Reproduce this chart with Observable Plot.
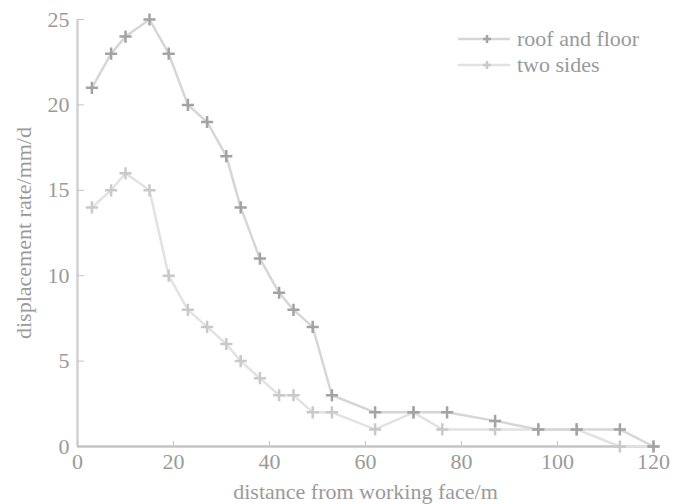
<!DOCTYPE html>
<html>
<head>
<meta charset="utf-8">
<script src="https://cdn.jsdelivr.net/npm/d3@7"></script>
<script src="https://cdn.jsdelivr.net/npm/@observablehq/plot@0.6"></script>
<style>
  html, body { margin: 0; padding: 0; background: #fff; }
  #wrap { position: relative; width: 675px; height: 504px; font-family: "Liberation Serif", "DejaVu Serif", serif; }
  #legend { position: absolute; left: 458px; top: 26px; font-size: 22px; color: #999; }
  #legend div { display: flex; align-items: center; height: 26px; }
  #legend svg { margin-right: 7px; }
</style>
</head>
<body>
<div id="wrap"></div>
<script>
// ---- data ----
const seriesNames = ["roof and floor", "two sides"];
const roofX = [3, 7, 10, 15, 19, 23, 27, 31, 34, 38, 42, 45, 49, 53, 62, 70, 77, 87, 96, 104, 113, 120];
const roofY = [21, 23, 24, 25, 23, 20, 19, 17, 14, 11, 9, 8, 7, 3, 2, 2, 2, 1.5, 1, 1, 1, 0];
const sidesX = [3, 7, 10, 15, 19, 23, 27, 31, 34, 38, 42, 45, 49, 53, 62, 70, 76, 87, 96, 104, 113, 120];
const sidesY = [14, 15, 16, 15, 10, 8, 7, 6, 5, 4, 3, 3, 2, 2, 1, 2, 1, 1, 1, 1, 0, 0];
const xTicks = [0, 20, 40, 60, 80, 100, 120];
const yTicks = [0, 5, 10, 15, 20, 25];

const lineColors = { "roof and floor": "#d6d6d6", "two sides": "#e2e2e2" };
const markColors = { "roof and floor": "#a3a3a3", "two sides": "#c9c9c9" };

const roof = roofX.map((x, i) => ({ x, y: roofY[i], s: seriesNames[0] }));
const sides = sidesX.map((x, i) => ({ x, y: sidesY[i], s: seriesNames[1] }));

const chart = Plot.plot({
  width: 675,
  height: 504,
  marginLeft: 77,
  marginRight: 22,
  marginTop: 19,
  marginBottom: 58,
  style: { fontFamily: "'Liberation Serif', 'DejaVu Serif', serif", fontSize: "22px", color: "#999", background: "#fff", overflow: "visible" },
  x: { domain: [0, 120] },
  y: { domain: [0, 25] },
  marks: [
    Plot.ruleX([0], { stroke: "#d2d2d2", strokeWidth: 2.5 }),
    Plot.ruleY([0], { stroke: "#c4c4c4", strokeWidth: 2.5 }),
    Plot.axisX({ ticks: xTicks, tickSize: -5, tickPadding: 12, stroke: "#c4c4c4", fill: "#9a9a9a", fontSize: 22,
      label: "distance from working face/m", labelAnchor: "center", labelOffset: 52, labelArrow: "none" }),
    Plot.axisY({ ticks: yTicks, tickSize: -7, tickPadding: 15, stroke: "#c4c4c4", fill: "#9a9a9a", fontSize: 22,
      label: "displacement rate/mm/d", labelAnchor: "center", labelOffset: 62, labelArrow: "none" }),
    Plot.line(sides, { x: "x", y: "y", stroke: lineColors["two sides"], strokeWidth: 2.5 }),
    Plot.line(roof, { x: "x", y: "y", stroke: lineColors["roof and floor"], strokeWidth: 2.5 }),
    Plot.dot(sides, { x: "x", y: "y", symbol: "plus", r: 4, stroke: markColors["two sides"], strokeWidth: 2.5 }),
    Plot.dot(roof, { x: "x", y: "y", symbol: "plus", r: 4, stroke: markColors["roof and floor"], strokeWidth: 2.5 })
  ]
});

const wrap = document.getElementById("wrap");
wrap.appendChild(chart);

// legend
const legend = document.createElement("div");
legend.id = "legend";
seriesNames.forEach(name => {
  const row = document.createElement("div");
  row.innerHTML = `<svg width="52" height="10"><line x1="0" y1="5" x2="52" y2="5" stroke="${lineColors[name]}" stroke-width="2.5"/>` +
    `<path d="M29,1V9M25,5H33" stroke="${markColors[name]}" stroke-width="2.5"/></svg><span>${name}</span>`;
  legend.appendChild(row);
});
wrap.appendChild(legend);
</script>
</body>
</html>
